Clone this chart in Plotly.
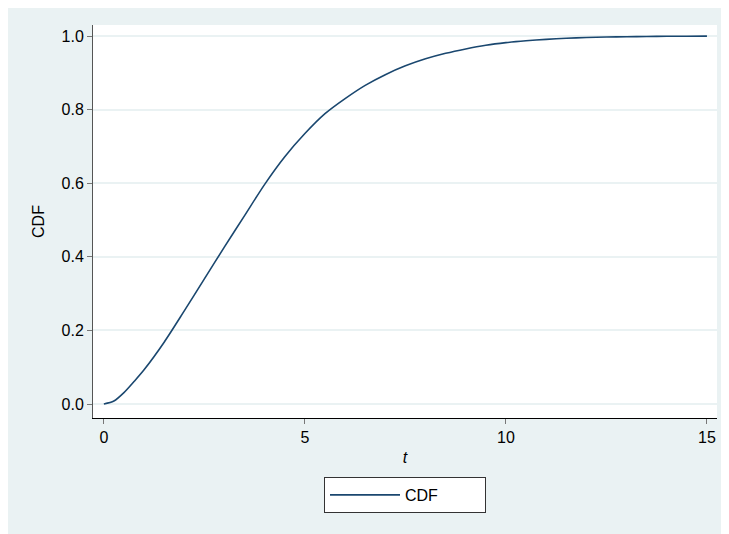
import plotly.graph_objects as go

# Data
t_values = [0, 0.25, 0.5, 0.75, 1, 1.5, 2, 2.5, 3, 3.5, 4, 4.5, 5, 5.5, 6, 6.5, 7, 7.5, 8, 8.5,
            9, 9.5, 10, 10.5, 11, 11.5, 12, 12.5, 13, 13.5, 14, 14.5, 15]
cdf_values = [0.0, 0.008, 0.031, 0.061, 0.093, 0.168, 0.253, 0.340, 0.427, 0.512, 0.597, 0.672,
              0.735, 0.789, 0.830, 0.866, 0.895, 0.919, 0.938, 0.953, 0.965, 0.975,
              0.982, 0.987, 0.991, 0.994, 0.996, 0.9973, 0.9982, 0.9988, 0.9993,
              0.9996, 0.9998]
x_ticks = [0, 5, 10, 15]
y_ticks = [0.0, 0.2, 0.4, 0.6, 0.8, 1.0]

BG = "#EAF2F3"
LINE = "#1A476F"
FONT = "Liberation Sans, Arial, Helvetica, sans-serif"

fig = go.Figure()
fig.add_trace(go.Scatter(
    x=t_values, y=cdf_values, mode="lines", name="CDF",
    line=dict(color=LINE, width=1.6, shape="spline", smoothing=0.8),
))

# page body adds an 8px margin; figure coordinates = window coordinates - 8
OFF = 8
W, H = 729 - OFF, 534 - OFF
L = 93 - OFF
T = 25 - OFF
plot_right = 717 - OFF
plot_bottom = 418 - OFF
R = W - plot_right
B = H - plot_bottom
pw, ph = plot_right - L, plot_bottom - T

fig.update_layout(
    width=W, height=H,
    margin=dict(l=L, r=R, t=T, b=B, pad=0),
    paper_bgcolor=BG, plot_bgcolor="white",
    font=dict(family=FONT, size=16, color="black"),
    showlegend=True,
    legend=dict(
        orientation="h", x=(324 - OFF - L) / pw, xanchor="left",
        y=(plot_bottom - (477 - OFF)) / ph, yanchor="top",
        bgcolor="white", bordercolor="#333", borderwidth=1,
        itemwidth=70, entrywidth=75, font=dict(size=16),
    ),
    xaxis=dict(
        range=[-0.27, 15.25], tickvals=x_ticks, ticks="outside", ticklen=5,
        tickcolor="#777", showgrid=False, zeroline=False,
        showline=True, linecolor="black", linewidth=1,
        title=dict(text="<i>t</i>", standoff=6, font=dict(size=16)),
    ),
    yaxis=dict(
        range=[-0.038, 1.03], tickvals=y_ticks, tickformat=".1f",
        ticks="outside", ticklen=5, tickcolor="#777",
        showgrid=True, gridcolor=BG, gridwidth=1.5, zeroline=False,
        showline=True, linecolor="#555", linewidth=1,
        title=dict(text="CDF", standoff=12, font=dict(size=16)),
    ),
)

fig.write_html("out.html")
